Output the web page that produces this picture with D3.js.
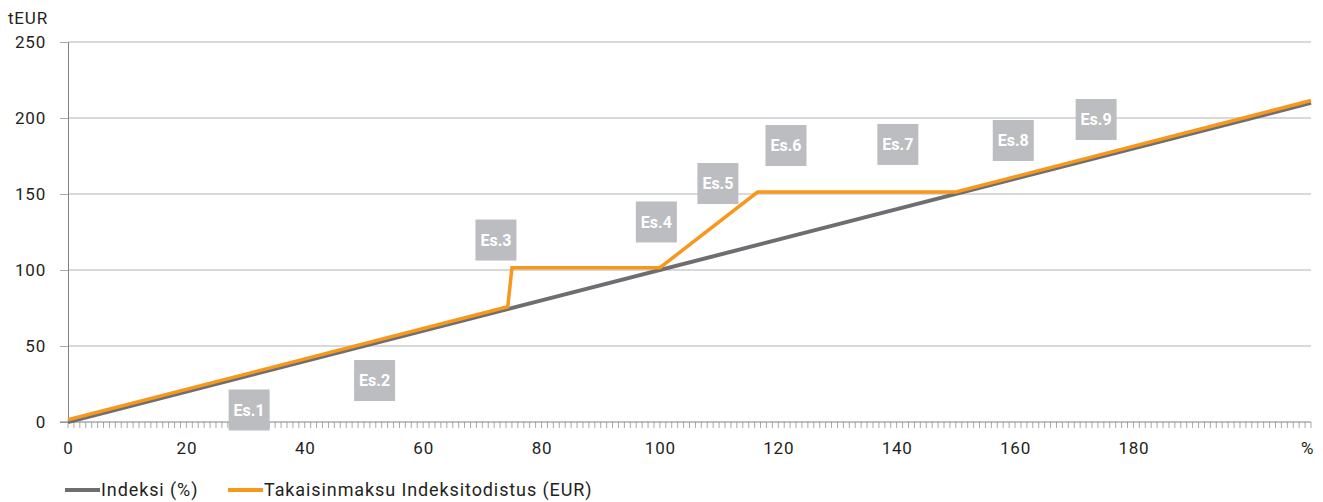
<!DOCTYPE html>
<html>
<head>
<meta charset="utf-8">
<script src="https://cdn.jsdelivr.net/npm/d3@7"></script>
<style>
  html, body { margin: 0; padding: 0; background: #fff; }
  svg { display: block; font-family: Roboto, "DejaVu Sans", sans-serif; }
</style>
</head>
<body>
<svg id="chart" width="1323" height="502"></svg>
<script>
// ---- data ----
const indexX = [0, 210];
const indexY = [0, 210];
const payX = [0, 74.3, 75, 100, 116.5, 150, 210];
const payY = [1.5, 75.8, 101.5, 101.5, 151.3, 151.3, 211.5];
const labelNames = ["Es.1", "Es.2", "Es.3", "Es.4", "Es.5", "Es.6", "Es.7", "Es.8", "Es.9"];
const labelX = [30.6, 51.8, 72.3, 99.4, 109.8, 121.3, 140.2, 159.7, 173.7];
const labelY = [7.9, 27.3, 119.7, 131.6, 156.9, 181.9, 182.6, 185.2, 199];
const yTicks = [0, 50, 100, 150, 200, 250];
const xTickValues = [0, 20, 40, 60, 80, 100, 120, 140, 160, 180, 210];
const xTickLabels = ["0", "20", "40", "60", "80", "100", "120", "140", "160", "180", "%"];
const seriesNames = ["Indeksi (%)", "Takaisinmaksu Indeksitodistus (EUR)"];
const seriesColors = ["#6d6e71", "#f7981d"];

const svg = d3.select("#chart");
const x = d3.scaleLinear().domain([0, 210]).range([68, 1311]);
const y = d3.scaleLinear().domain([0, 250]).range([422, 42]);

const tickFont = { size: "17px", spacing: "0.8px" };

// gridlines
svg.append("g").selectAll("line").data(yTicks.filter(d => d > 0)).join("line")
  .attr("x1", x(0)).attr("x2", x(210))
  .attr("y1", d => y(d)).attr("y2", d => y(d))
  .attr("stroke", "#b1b3b6").attr("stroke-width", 1);

// y axis
const yAxis = d3.axisLeft(y).tickValues(yTicks).tickSize(8).tickPadding(14);
const gy = svg.append("g").attr("transform", `translate(${x(0)},0)`).call(yAxis);
gy.select(".domain").attr("stroke", "#808285");
gy.selectAll(".tick line").attr("stroke", "#a7a9ac");
gy.selectAll(".tick text").attr("fill", "#231f20").style("font-size", tickFont.size)
  .style("letter-spacing", tickFont.spacing).style("font-family", "Roboto, sans-serif");

// x minor ticks
const minor = d3.range(0, 211, 1);
svg.append("g").selectAll("line").data(minor).join("line")
  .attr("x1", d => x(d)).attr("x2", d => x(d))
  .attr("y1", y(0)).attr("y2", y(0) + 6)
  .attr("stroke", "#a7a9ac").attr("stroke-width", 1);

// x axis
const xAxis = d3.axisBottom(x).tickValues(xTickValues).tickSize(0).tickPadding(20)
  .tickFormat((d, i) => xTickLabels[i]);
const gx = svg.append("g").attr("transform", `translate(0,${y(0)})`).call(xAxis);
gx.select(".domain").remove();
gx.selectAll(".tick text").attr("fill", "#231f20").style("font-size", tickFont.size)
  .style("letter-spacing", tickFont.spacing).style("font-family", "Roboto, sans-serif");
gx.selectAll(".tick").filter((d, i) => xTickLabels[i] === "%").select("text").attr("dx", "-4");
svg.append("line").attr("x1", x(0) - 8).attr("x2", x(210)).attr("y1", y(0)).attr("y2", y(0))
  .attr("stroke", "#808285").attr("stroke-width", 1);

// unit label
svg.append("text").attr("x", 8).attr("y", 24).text("tEUR")
  .attr("fill", "#231f20").style("font-size", tickFont.size).style("letter-spacing", tickFont.spacing);

// label boxes
const lg = svg.append("g").selectAll("g").data(labelNames).join("g")
  .attr("transform", (d, i) => `translate(${x(labelX[i])},${y(labelY[i])})`);
lg.append("rect").attr("x", -20.5).attr("y", -20.5).attr("width", 41).attr("height", 41).attr("fill", "#bcbdc0");
lg.append("text").attr("text-anchor", "middle").attr("dy", "0.36em").text(d => d)
  .attr("fill", "#fff").attr("font-size", 16).attr("font-weight", "bold")
  .attr("font-family", "Roboto, sans-serif");

// lines
const line = d3.line().x(d => x(d[0])).y(d => y(d[1]));
svg.append("path").datum(indexX.map((v, i) => [v, indexY[i]]))
  .attr("d", line).attr("fill", "none").attr("stroke", seriesColors[0]).attr("stroke-width", 4);
svg.append("path").datum(payX.map((v, i) => [v, payY[i]]))
  .attr("d", line).attr("fill", "none").attr("stroke", seriesColors[1]).attr("stroke-width", 3.5)
  .attr("stroke-linejoin", "miter");

// legend
const legX = [65, 228];
const leg = svg.append("g").selectAll("g").data(seriesNames).join("g")
  .attr("transform", (d, i) => `translate(${legX[i]},490)`);
leg.append("line").attr("x1", 0).attr("x2", 35).attr("y1", 0).attr("y2", 0)
  .attr("stroke", (d, i) => seriesColors[i]).attr("stroke-width", 4);
leg.append("text").attr("x", 36).attr("dy", "0.35em").text(d => d)
  .attr("fill", "#231f20").style("font-size", "18px").style("letter-spacing", "0.9px");
</script>
</body>
</html>
